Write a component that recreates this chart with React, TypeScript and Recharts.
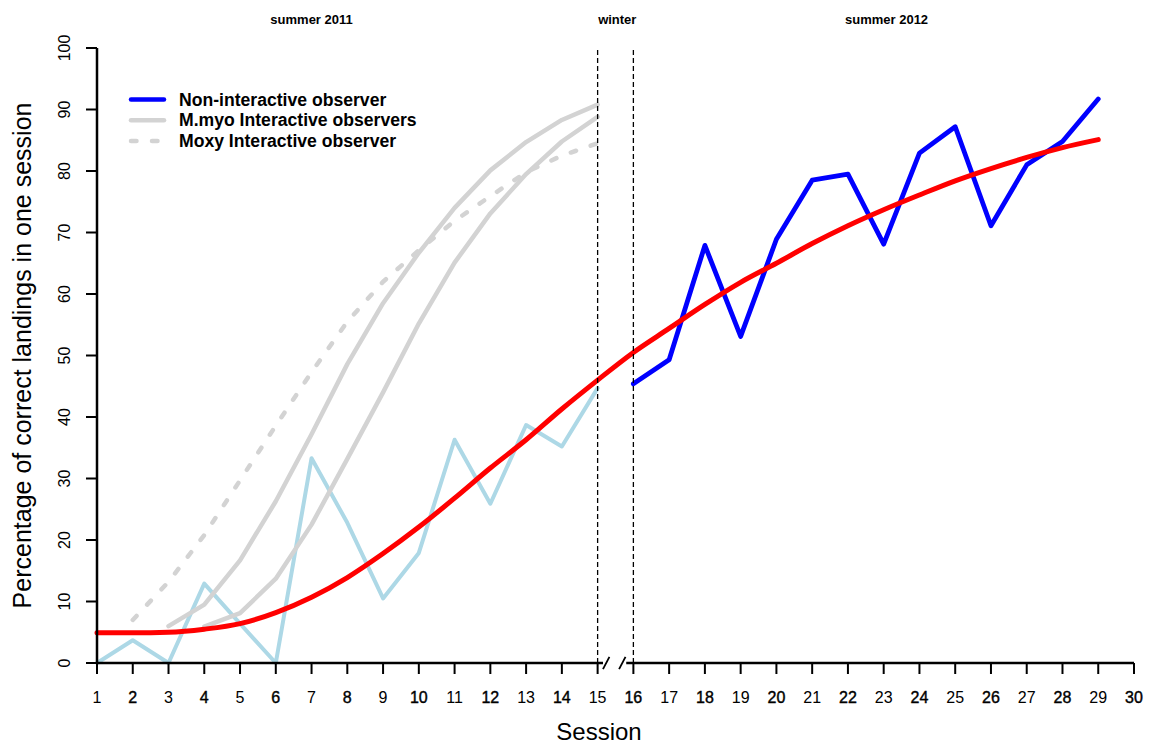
import React from "react";
import { LineChart, Line, XAxis, YAxis, ReferenceLine, ReferenceDot } from "recharts";

const FONT = "'Liberation Sans', Arial, Helvetica, sans-serif";

const sessions = [1, 2, 3, 4, 5, 6, 7, 8, 9, 10, 11, 12, 13, 14, 15, 16, 17, 18, 19, 20, 21, 22, 23, 24, 25, 26, 27, 28, 29];
const xTicks = [1, 2, 3, 4, 5, 6, 7, 8, 9, 10, 11, 12, 13, 14, 15, 16, 17, 18, 19, 20, 21, 22, 23, 24, 25, 26, 27, 28, 29, 30];
const yTicks = [0, 10, 20, 30, 40, 50, 60, 70, 80, 90, 100];

// non-interactive observer, sessions 1-15 (summer 2011)
const observer2011 = [0, 3.7, 0, 12.9, 6.4, 0, 33.3, 22.8, 10.5, 17.9, 36.3, 25.9, 38.7, 35.2, 44.7];
// non-interactive observer, sessions 16-29 (summer 2012)
const observer2012 = [45.4, 49.3, 67.9, 53.1, 68.9, 78.5, 79.5, 68.1, 82.9, 87.2, 71.1, 81.0, 84.8, 91.7];
// fitted learning curve, sessions 1-29
const fitted = [
  4.9, 4.9, 5.0, 5.5, 6.4, 8.2, 10.7, 13.9, 17.8, 22.1, 26.8, 31.7, 36.3, 41.3, 46.0,
  50.5, 54.4, 58.3, 61.9, 65.0, 68.2, 71.1, 73.7, 76.1, 78.4, 80.4, 82.2, 83.8, 85.1,
];
// M.myo interactive observers: first starts at session 3, second at session 4
const mmyoFirst = [6.0, 9.5, 16.7, 26.3, 37.2, 48.6, 58.5, 66.7, 74.0, 80.1, 84.7, 88.3, 90.8];
const mmyoSecond = [5.9, 8.1, 13.7, 22.5, 33.2, 44.0, 55.2, 65.1, 73.1, 79.5, 84.8, 88.8];
// Moxy interactive observer, sessions 2-15
const moxy = [7.0, 13.2, 20.8, 29.7, 38.6, 47.3, 55.5, 62.0, 67.1, 71.9, 75.9, 79.8, 82.5, 84.5];

const at = (values: number[], first: number, s: number) => {
  const i = s - first;
  return i >= 0 && i < values.length ? values[i] : null;
};

const data = sessions.map((s) => ({
  session: s,
  obs2011: at(observer2011, 1, s),
  obs2012: at(observer2012, 16, s),
  fit: at(fitted, 1, s),
  mmyo1: at(mmyoFirst, 3, s),
  mmyo2: at(mmyoSecond, 4, s),
  moxy: at(moxy, 2, s),
}));

const LIGHTBLUE = "#add8e6";
const BLUE = "#0000ff";
const RED = "#ff0000";
const GRAY = "#d3d3d3";
const DASH = "5.5 15.5";

const legendItems = [
  { label: "Non-interactive observer", color: BLUE, dash: undefined },
  { label: "M.myo Interactive observers", color: GRAY, dash: undefined },
  { label: "Moxy Interactive observer", color: GRAY, dash: DASH },
];

const SessionTick = (props: any) => {
  const { x, y, payload } = props;
  const even = payload.value % 2 === 0;
  return (
    <text
      x={x}
      y={y + 27}
      textAnchor="middle"
      fontFamily={FONT}
      fontSize={16}
      fill="#000"
      stroke={even ? "#000" : "none"}
      strokeWidth={even ? 0.4 : 0}
    >
      {payload.value}
    </text>
  );
};

const PercentTick = (props: any) => {
  const { x, y, payload } = props;
  const bx = x - 14;
  return (
    <text
      x={bx}
      y={y}
      transform={`rotate(-90 ${bx} ${y})`}
      textAnchor="middle"
      fontFamily={FONT}
      fontSize={16}
      fill="#000"
    >
      {payload.value}
    </text>
  );
};

const SessionTitle = (props: any) => {
  const vb = props.viewBox || { x: 97, y: 663, width: 1037 };
  return (
    <text x={vb.x + 502} y={vb.y + 77} textAnchor="middle" fontFamily={FONT} fontSize={24} fill="#000">
      Session
    </text>
  );
};

const PercentTitle = (props: any) => {
  const vb = props.viewBox || { x: 0, y: 48, height: 615 };
  const cx = 31;
  const cy = vb.y + vb.height / 2;
  return (
    <text
      x={cx}
      y={cy}
      transform={`rotate(-90 ${cx} ${cy})`}
      textAnchor="middle"
      fontFamily={FONT}
      fontSize={25}
      fill="#000"
    >
      Percentage of correct landings in one session
    </text>
  );
};

const seasonLabel = (value: string) => ({
  value,
  position: "top" as const,
  offset: 24,
  fontFamily: FONT,
  fontSize: 13,
  fontWeight: 700,
  fill: "#000",
});

const lineProps = {
  dot: false,
  activeDot: false,
  isAnimationActive: false,
  connectNulls: false,
  strokeLinecap: "round" as const,
  strokeLinejoin: "round" as const,
};

export default function App() {
  return (
    <div style={{ position: "absolute", left: 0, top: 0, width: 1155, height: 745, background: "#fff" }}>
      <LineChart width={1155} height={745} data={data} margin={{ top: 48, right: 21, bottom: 0, left: 0 }}>
        <XAxis
          dataKey="session"
          type="number"
          domain={[1, 30]}
          ticks={xTicks}
          interval={0}
          height={82}
          axisLine={false}
          tickLine={{ stroke: "#000", strokeWidth: 2 }}
          tickSize={11}
          tick={<SessionTick />}
          label={<SessionTitle />}
        />
        <YAxis
          type="number"
          domain={[0, 100]}
          ticks={yTicks}
          interval={0}
          width={97}
          axisLine={{ stroke: "#000", strokeWidth: 2.5 }}
          tickLine={{ stroke: "#000", strokeWidth: 2 }}
          tickSize={11}
          tick={<PercentTick />}
          label={<PercentTitle />}
        />

        <Line dataKey="obs2011" stroke={LIGHTBLUE} strokeWidth={4} {...lineProps} />
        <Line dataKey="mmyo1" stroke={GRAY} strokeWidth={4.5} {...lineProps} />
        <Line dataKey="mmyo2" stroke={GRAY} strokeWidth={4.5} {...lineProps} />
        <Line dataKey="moxy" stroke={GRAY} strokeWidth={4.5} strokeDasharray={DASH} {...lineProps} />
        <Line dataKey="obs2012" stroke={BLUE} strokeWidth={4.8} {...lineProps} />
        <Line type="monotone" dataKey="fit" stroke={RED} strokeWidth={5} {...lineProps} />

        {/* season boundaries */}
        <ReferenceLine x={15} stroke="#000" strokeWidth={1.3} strokeDasharray="5 3" />
        <ReferenceLine x={16} stroke="#000" strokeWidth={1.3} strokeDasharray="5 3" />

        {/* x axis line with a break between sessions 15 and 16 */}
        <ReferenceLine segment={[{ x: 1, y: 0 }, { x: 15.15, y: 0 }]} stroke="#000" strokeWidth={2.5} ifOverflow="visible" />
        <ReferenceLine segment={[{ x: 15.8, y: 0 }, { x: 30, y: 0 }]} stroke="#000" strokeWidth={2.5} ifOverflow="visible" />
        <ReferenceLine segment={[{ x: 15.15, y: -1 }, { x: 15.33, y: 1 }]} stroke="#000" strokeWidth={1.8} ifOverflow="visible" />
        <ReferenceLine segment={[{ x: 15.6, y: -1 }, { x: 15.78, y: 1 }]} stroke="#000" strokeWidth={1.8} ifOverflow="visible" />

        <ReferenceDot x={7} y={100} r={0} fill="none" stroke="none" ifOverflow="visible" label={seasonLabel("summer 2011")} />
        <ReferenceDot x={15.55} y={100} r={0} fill="none" stroke="none" ifOverflow="visible" label={seasonLabel("winter")} />
        <ReferenceDot x={23.08} y={100} r={0} fill="none" stroke="none" ifOverflow="visible" label={seasonLabel("summer 2012")} />
      </LineChart>

      <svg width={340} height={70} style={{ position: "absolute", left: 120, top: 85 }}>
        {legendItems.map((item, i) => {
          const y = 14.5 + i * 20.8;
          return (
            <g key={item.label}>
              <line
                x1={11}
                x2={44}
                y1={y}
                y2={y}
                stroke={item.color}
                strokeWidth={4.5}
                strokeDasharray={item.dash}
                strokeLinecap="round"
              />
              <text x={59} y={y + 6} fontFamily={FONT} fontSize={17.6} fontWeight={700} fill="#000">
                {item.label}
              </text>
            </g>
          );
        })}
      </svg>
    </div>
  );
}
